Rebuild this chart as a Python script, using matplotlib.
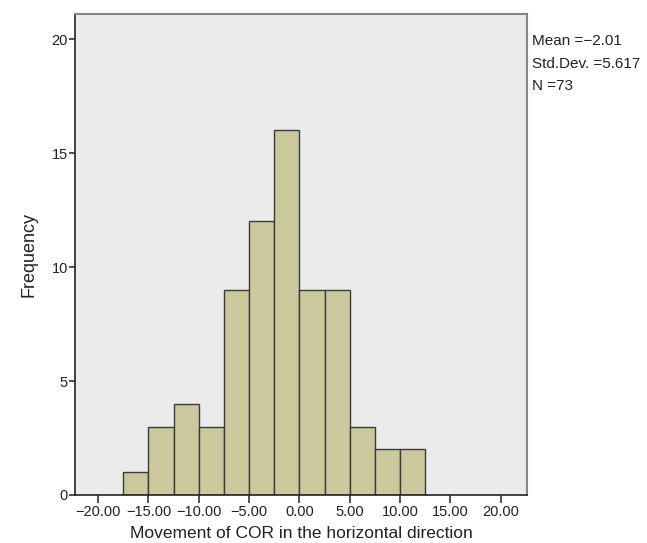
import matplotlib
matplotlib.use('Agg')
import matplotlib.pyplot as plt

plt.rcParams['font.family'] = ['Liberation Sans', 'DejaVu Sans']

# Histogram bins (width 2.5) and counts
bin_edges = [-17.5, -15.0, -12.5, -10.0, -7.5, -5.0, -2.5, 0.0, 2.5, 5.0, 7.5, 10.0, 12.5]
counts = [1, 3, 4, 3, 9, 12, 16, 9, 9, 3, 2, 2]

x_ticks = [-20, -15, -10, -5, 0, 5, 10, 15, 20]
y_ticks = [0, 5, 10, 15, 20]
stats_text = 'Mean =\u22122.01\nStd.Dev. =5.617\nN =73'

fig = plt.figure(figsize=(6.47, 5.43), dpi=100)
ax = fig.add_axes([75/647, 48/543, 452/647, 481/543])
ax.set_facecolor('#ebebeb')

lefts = bin_edges[:-1]
widths = [b - a for a, b in zip(bin_edges[:-1], bin_edges[1:])]
ax.bar(lefts, counts, width=widths, align='edge', color='#ccc89d',
       edgecolor='#3a3a3a', linewidth=1.0, zorder=2)

ax.set_xlim(-22.3, 22.6)
ax.set_ylim(0, 21.1)
ax.set_xticks(x_ticks)
ax.set_xticklabels([('%.2f' % v).replace('-', '\u2212') for v in x_ticks])
ax.set_yticks(y_ticks)

ax.tick_params(axis='x', direction='out', length=6, width=1.2, color='#333333',
               labelsize=10.5, pad=1, labelcolor='#222222')
ax.tick_params(axis='y', direction='out', length=4, width=1.2, color='#333333',
               labelsize=10.5, pad=1, labelcolor='#222222')

for side in ['left', 'bottom']:
    ax.spines[side].set_color('#222222')
    ax.spines[side].set_linewidth(1.2)
for side in ['top', 'right']:
    ax.spines[side].set_color('#858585')
    ax.spines[side].set_linewidth(1.5)

ax.set_xlabel('Movement of COR in the horizontal direction', fontsize=12.5,
              color='#222222', labelpad=5)
ax.set_ylabel('Frequency', fontsize=13, color='#222222', labelpad=10)

fig.text(532/647, 1 - 34/543, stats_text, fontsize=11, color='#222222',
         va='top', ha='left', linespacing=1.78)

plt.savefig('out.png', dpi=100)
